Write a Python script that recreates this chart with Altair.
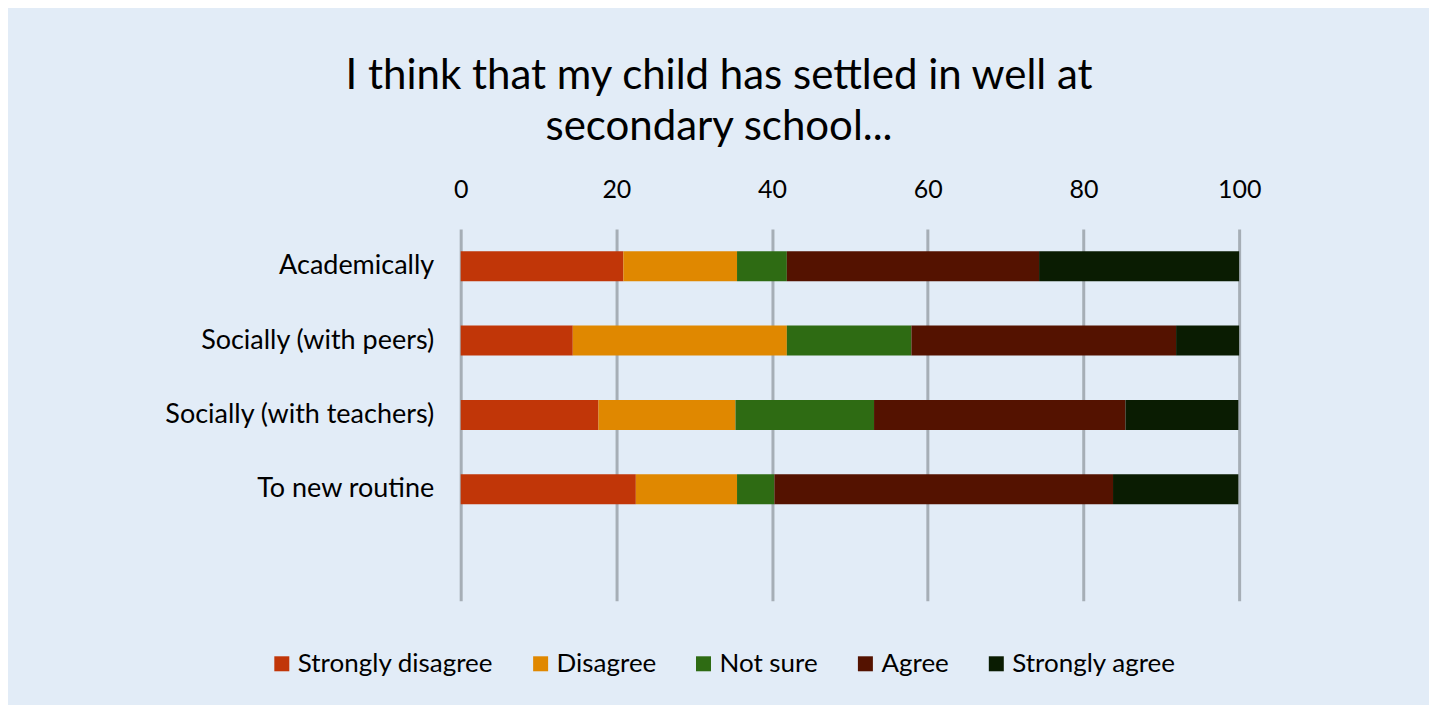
import altair as alt
import pandas as pd

categories = ["Academically", "Socially (with peers)", "Socially (with teachers)", "To new routine"]
axis_slots = categories + [" "]
responses = ["Strongly disagree", "Disagree", "Not sure", "Agree", "Strongly agree"]
colors = ["#C13608", "#E08800", "#2E6B13", "#541200", "#0A1C02"]

strongly_disagree = [20.9, 14.4, 17.7, 22.5]
disagree = [14.6, 27.5, 17.6, 13.0]
not_sure = [6.4, 16.0, 17.8, 4.8]
agree = [32.4, 34.0, 32.3, 43.5]
strongly_agree = [25.7, 8.1, 14.5, 16.1]

series = [strongly_disagree, disagree, not_sure, agree, strongly_agree]
rows = []
for ri, (resp, vals) in enumerate(zip(responses, series)):
    for cat, v in zip(categories, vals):
        rows.append({"category": cat, "response": resp, "value": v, "order": ri})
df = pd.DataFrame(rows)

FONT = "Lato"

chart = alt.Chart(df).mark_bar(size=30).encode(
    y=alt.Y("category:N", sort=axis_slots,
            scale=alt.Scale(domain=axis_slots, paddingInner=0, paddingOuter=0),
            axis=alt.Axis(title=None, ticks=False, domain=False, grid=False,
                          labelFontSize=27, labelColor="#000000", labelFont=FONT,
                          labelPadding=27, labelLimit=500)),
    x=alt.X("value:Q", stack="zero",
            scale=alt.Scale(domain=[0, 100], nice=False),
            axis=alt.Axis(title=None, orient="top", values=[0, 20, 40, 60, 80, 100],
                          ticks=False, domain=False, grid=True, gridColor="#A6AEB6",
                          gridWidth=3, labelFontSize=25, labelColor="#000000",
                          labelFont=FONT, labelPadding=27, labelFlush=False)),
    color=alt.Color("response:N", sort=responses,
                    scale=alt.Scale(domain=responses, range=colors),
                    legend=alt.Legend(title=None, orient="none", direction="horizontal",
                                      legendX=-192, legendY=422, symbolType="square",
                                      symbolSize=225, symbolStrokeWidth=0,
                                      labelFontSize=26, labelFont=FONT, labelColor="#000000",
                                      labelLimit=500, columnPadding=34, labelOffset=3)),
    order=alt.Order("order:Q"),
).properties(
    width=779,
    height=372,
    title=alt.TitleParams(
        text=["I think that my child has settled in well at", "secondary school..."],
        fontSize=42, font=FONT, fontWeight="normal", color="#000000",
        lineHeight=51, anchor="middle", dx=-131, offset=28,
    ),
    background="#E2ECF7",
    padding={"left": 453, "top": 221, "right": 190, "bottom": 104},
    autosize=alt.AutoSizeParams(type="none"),
).configure_view(stroke=None)

chart.save("out.html", embed_options={"renderer": "svg", "actions": False})
